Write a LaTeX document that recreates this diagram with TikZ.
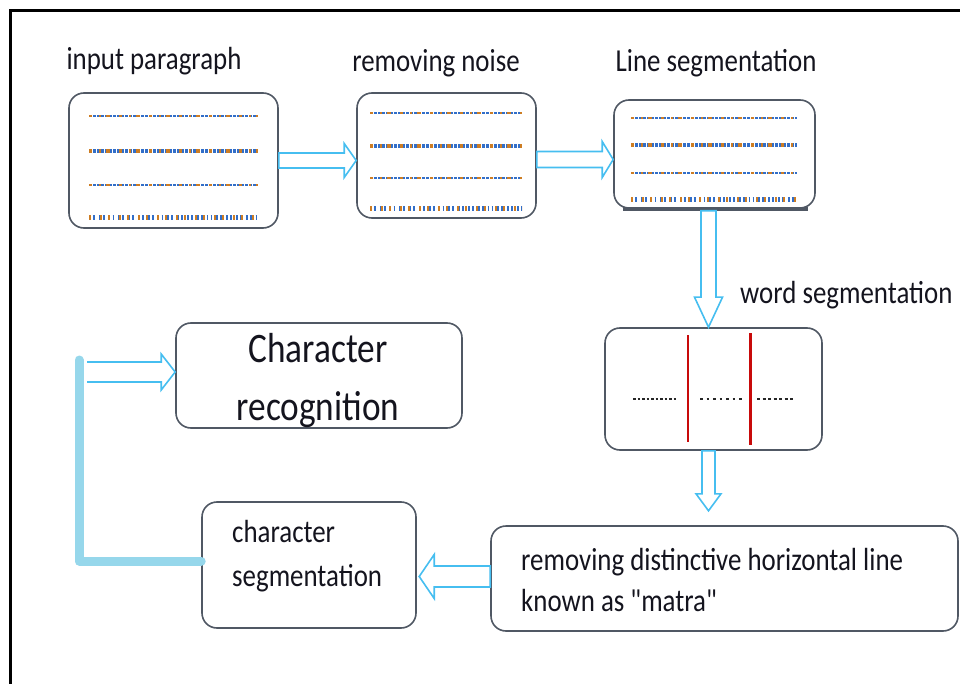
\documentclass[tikz,border=0pt]{standalone}
\usepackage{fontspec}
\setmainfont{Carlito}[FakeStretch=0.84]
\newfontfamily\plainfont{Carlito}[FakeStretch=0.84]
\usetikzlibrary{calc}
\definecolor{arrowblue}{RGB}{70,190,240}
\definecolor{linkblue}{RGB}{150,215,235}
\definecolor{boxgray}{RGB}{80,88,100}
\definecolor{dotblue}{RGB}{50,110,200}
\definecolor{dotorange}{RGB}{205,125,35}
\definecolor{txt}{RGB}{20,20,30}
\definecolor{matrared}{RGB}{200,10,10}
\tikzset{
  procbox/.style={draw=boxgray, line width=1.6pt, rounded corners=15pt, fill=white, inner sep=0pt},
  lbl/.style={text=txt, font=\plainfont\fontsize{32}{40}\selectfont, inner sep=0pt},
  biglbl/.style={text=txt, font=\plainfont\fontsize{42}{58}\selectfont, inner sep=0pt, align=center},
  harrowline/.style={draw=arrowblue, line width=1.6pt, fill=white, line join=miter},
  linkline/.style={linkblue, line width=9pt, line cap=round, line join=round},
  frameline/.style={black, line width=3pt}
}
% #1 start, #2 tip, #3 shaft half width, #4 head half width, #5 head length
\newcommand{\hollowarrow}[5]{%
  \coordinate (hb) at ($(#2)!#5!(#1)$);
  \draw[harrowline] ($(#1)!#3!90:(#2)$) -- ($(hb)!#3!-90:(#1)$) -- ($(hb)!#4!-90:(#1)$)
    -- (#2) -- ($(hb)!#4!90:(#1)$) -- ($(hb)!#3!90:(#1)$) -- ($(#1)!#3!-90:(#2)$) -- cycle;
}
% same, open at the start
\newcommand{\openarrow}[5]{%
  \coordinate (hb) at ($(#2)!#5!(#1)$);
  \fill[white] ($(#1)!#3!90:(#2)$) -- ($(hb)!#3!-90:(#1)$) -- ($(hb)!#4!-90:(#1)$)
    -- (#2) -- ($(hb)!#4!90:(#1)$) -- ($(hb)!#3!90:(#1)$) -- ($(#1)!#3!-90:(#2)$) -- cycle;
  \draw[harrowline, fill=none] ($(#1)!#3!90:(#2)$) -- ($(hb)!#3!-90:(#1)$) -- ($(hb)!#4!-90:(#1)$)
    -- (#2) -- ($(hb)!#4!90:(#1)$) -- ($(hb)!#3!90:(#1)$) -- ($(#1)!#3!-90:(#2)$);
}
% x1, x2, y, line width
\newcommand{\dotrow}[4]{%
  \draw[dotblue, line width=#4, dash pattern=on 2.5pt off 1.5pt] (#1,#3) -- (#2,#3);
  \draw[dotorange, line width=#4, dash pattern=on 3pt off 7pt on 2pt off 5pt on 4pt off 9pt] (#1,#3) -- (#2,#3);
}
\newcommand{\barrow}[3]{%
  \draw[dotblue, line width=5pt, dash pattern=on 1.8pt off 2.2pt on 1.8pt off 4pt] (#1,#3) -- (#2,#3);
  \draw[dotorange, line width=5pt, dash pattern=on 2pt off 9pt on 2pt off 6pt] (#1,#3) -- (#2,#3);
}
\begin{document}
\begin{tikzpicture}[x=1pt,y=-1pt]
\useasboundingbox (0,0) rectangle (960,684);
% frame
\draw[frameline] (10,684) -- (10,11) -- (960,11);

% boxes
\node[procbox, minimum width=209pt, minimum height=135pt] (box1) at (173.5,160.5) {};
\node[procbox, minimum width=179pt, minimum height=125pt] (box2) at (446.5,155.5) {};
\node[procbox, minimum width=201pt, minimum height=108pt] (box3) at (714.5,154) {};
\draw[boxgray, line width=3.5pt] ($(box3.south west)+(10,0)$) -- ($(box3.south east)+(-8,0)$);
\node[procbox, minimum width=217pt, minimum height=122pt] (box4) at (713.5,389) {};
\node[procbox, minimum width=467pt, minimum height=105pt] (box5) at (724.5,578.5) {};
\node[procbox, minimum width=214pt, minimum height=126pt] (box6) at (309,565) {};
\node[procbox, minimum width=286pt, minimum height=105pt] (box7) at (319,375.5) {};

% labels
\node[lbl, anchor=base] (l1) at (154,70) {input paragraph};
\node[lbl, anchor=base] (l2) at (436,72) {removing noise};
\node[lbl, anchor=base] (l3) at (716,72) {Line segmentation};
\node[lbl, anchor=base west] (l4) at (740,303) {word segmentation};
\node[lbl, anchor=base west] (t5a) at (521,570) {removing distinctive horizontal line};
\node[lbl, anchor=base west] (t5b) at (521,611) {known as "matra"};
\node[lbl, anchor=base west] (t6a) at (232,542) {character};
\node[lbl, anchor=base west] (t6b) at (232,586) {segmentation};
\node[biglbl, anchor=base] (t7a) at (318,362) {Character};
\node[biglbl, anchor=base] (t7b) at (318,420) {recognition};

% text lines in boxes
\dotrow{89}{258}{116}{2.5pt}
\dotrow{89}{258}{151}{4pt}
\dotrow{89}{258}{185}{2.5pt}
\barrow{89}{258}{218}
\dotrow{370}{522}{113}{2.5pt}
\dotrow{370}{522}{146}{4.5pt}
\dotrow{370}{522}{178}{2.5pt}
\barrow{370}{522}{209}
\dotrow{631}{797}{118}{2.5pt}
\dotrow{631}{797}{145}{4.5pt}
\dotrow{631}{797}{173}{2.5pt}
\barrow{631}{797}{200}
% word segmentation box
\draw[black!85, line width=2.5pt, dash pattern=on 2.5pt off 2pt] (633,399) -- (677,399);
\draw[black!85, line width=2.5pt, dash pattern=on 2.5pt off 4pt] (700,399) -- (742,399);
\draw[black!85, line width=2.5pt, dash pattern=on 3pt off 2.5pt] (757,399) -- (794,399);
\draw[matrared, line width=1.6pt] (688,335) -- (688,442);
\draw[matrared, line width=3pt] (750,333) -- (750,445);

% connectors
\coordinate (a1s) at (box1.east);
\coordinate (a1e) at (box1.east -| box2.west);
\hollowarrow{a1s}{a1e}{7.5pt}{17pt}{12pt}
\coordinate (a2s) at ($(box2.east)+(0,4)$);
\coordinate (a2e) at (a2s -| box3.west);
\hollowarrow{a2s}{a2e}{8pt}{18pt}{11pt}
\coordinate (a3s) at ($(box3.south)+(-6,2)$);
\coordinate (a3e) at (a3s |- box4.north);
\hollowarrow{a3s}{a3e}{7.5pt}{14pt}{30pt}
\coordinate (a4s) at ($(box4.south)+(-5,0)$);
\coordinate (a4e) at ($(box4.south)+(-5,60)$);
\hollowarrow{a4s}{a4e}{6.5pt}{12.5pt}{17pt}
\coordinate (a5s) at ($(box5.west)+(0,-2)$);
\coordinate (a5e) at ($(box5.west)+(-71,-2)$);
\hollowarrow{a5s}{a5e}{10.5pt}{22pt}{15pt}
\coordinate (linktop) at (79,360);
\draw[linkline] ($(box6.west)+(0,-4)$) -| (linktop);
\coordinate (a6s) at (87,372);
\coordinate (a6e) at (a6s -| box7.west);
\openarrow{a6s}{a6e}{10pt}{18pt}{14pt}
\end{tikzpicture}
\end{document}
